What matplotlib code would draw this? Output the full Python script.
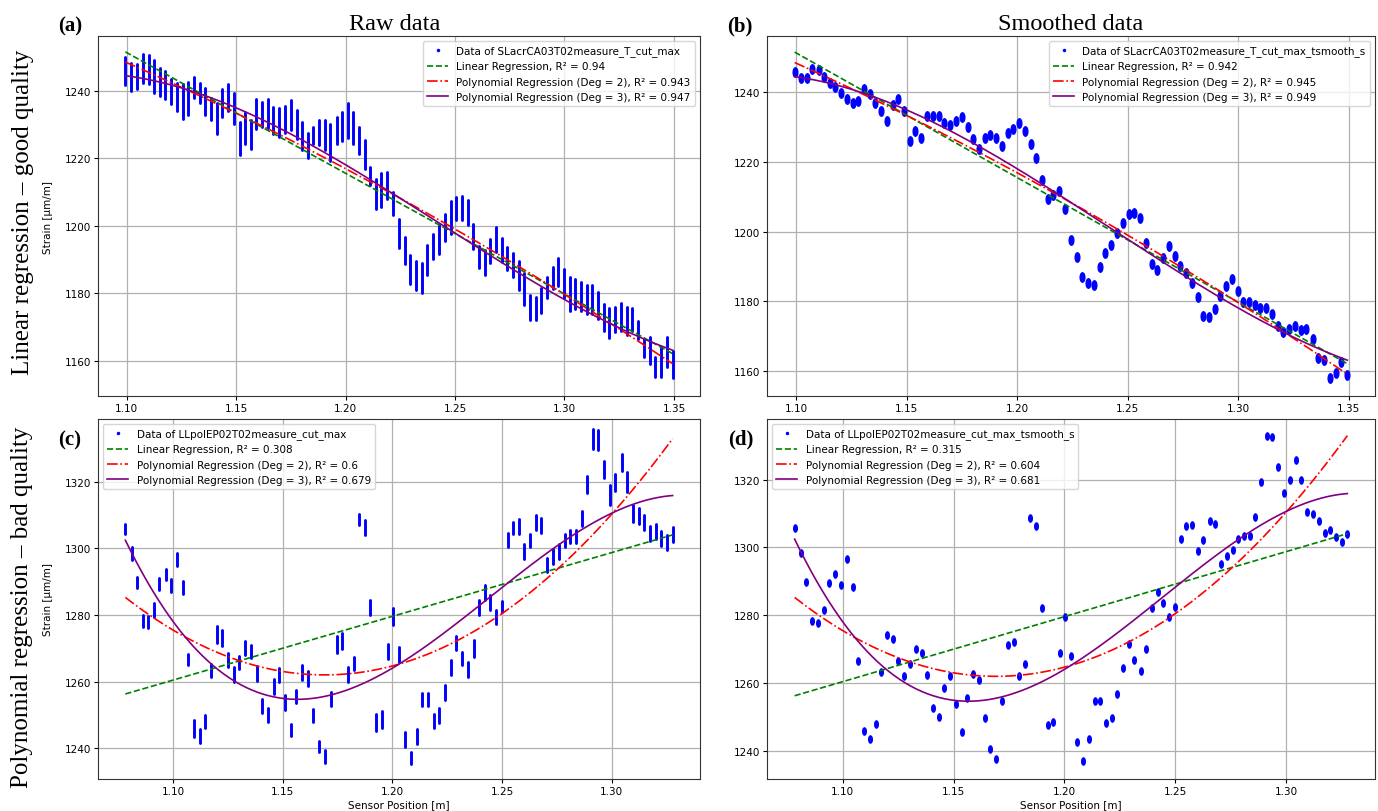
import numpy as np
import matplotlib.pyplot as plt
from matplotlib.lines import Line2D
from matplotlib.markers import MarkerStyle
from matplotlib.transforms import Affine2D

# ---- good quality sensor (SLacrCA03T02) ----
pos_good = [1.0994, 1.1022, 1.1048, 1.1074, 1.1102, 1.1126, 1.1152, 1.1177, 1.1203, 1.1229,
            1.1257, 1.1281, 1.1307, 1.1333, 1.1359, 1.1385, 1.1411, 1.1437, 1.1463, 1.1490,
            1.1516, 1.1540, 1.1566, 1.1592, 1.1618, 1.1646, 1.1670, 1.1698, 1.1724, 1.1750,
            1.1776, 1.1801, 1.1827, 1.1853, 1.1879, 1.1905, 1.1931, 1.1959, 1.1983, 1.2009,
            1.2035, 1.2061, 1.2087, 1.2113, 1.2138, 1.2164, 1.2190, 1.2218, 1.2244, 1.2270,
            1.2296, 1.2322, 1.2348, 1.2374, 1.2400, 1.2426, 1.2452, 1.2480, 1.2505, 1.2531,
            1.2557, 1.2583, 1.2609, 1.2635, 1.2661, 1.2687, 1.2713, 1.2739, 1.2765, 1.2791,
            1.2817, 1.2843, 1.2869, 1.2894, 1.2920, 1.2946, 1.2972, 1.2998, 1.3024, 1.3050,
            1.3075, 1.3101, 1.3127, 1.3153, 1.3179, 1.3205, 1.3231, 1.3259, 1.3285, 1.3309,
            1.3337, 1.3363, 1.3389, 1.3415, 1.3441, 1.3467, 1.3494]
strain_good = [1245.9, 1244.0, 1244.2, 1246.6, 1246.4, 1244.3, 1242.5, 1241.6, 1239.7, 1238.1,
               1236.8, 1237.6, 1241.0, 1239.4, 1236.8, 1234.5, 1231.8, 1236.4, 1238.0, 1234.7,
               1225.9, 1228.9, 1227.0, 1233.1, 1233.1, 1233.3, 1231.2, 1230.6, 1231.6, 1232.8,
               1230.0, 1226.5, 1223.7, 1226.8, 1227.6, 1226.8, 1224.6, 1228.3, 1229.4, 1231.1,
               1229.0, 1225.2, 1221.1, 1214.7, 1209.4, 1210.6, 1211.8, 1206.6, 1197.7, 1192.8,
               1187.1, 1185.3, 1184.6, 1189.8, 1193.8, 1196.1, 1199.5, 1202.4, 1205.1, 1205.3,
               1203.9, 1196.8, 1190.8, 1189.1, 1192.5, 1195.8, 1192.9, 1190.3, 1188.3, 1185.3,
               1181.2, 1175.8, 1175.5, 1177.9, 1181.7, 1184.5, 1186.3, 1182.9, 1179.8, 1179.9,
               1179.1, 1178.2, 1178.2, 1176.4, 1172.9, 1171.3, 1172.2, 1172.9, 1171.8, 1172.2,
               1169.1, 1163.8, 1163.1, 1158.1, 1159.6, 1162.7, 1159.0]
# half height of the raw data clusters
spread_good = [4.2, 4.2, 3.7, 4.4, 4.3, 4.9, 4.2, 4.2, 3.7, 4.2,
               5.2, 4.9, 3.2, 3.0, 4.0, 3.2, 4.5, 4.2, 4.0, 4.7,
               4.9, 4.7, 4.4, 4.4, 3.7, 4.2, 4.0, 4.4, 4.0, 4.4,
               4.4, 4.2, 3.7, 2.5, 3.7, 4.4, 5.4, 4.0, 4.2, 5.2,
               4.7, 4.0, 4.2, 2.7, 4.4, 4.9, 4.0, 3.5, 4.2, 4.0,
               4.2, 4.4, 4.4, 4.4, 3.7, 4.4, 4.0, 4.9, 3.5, 3.5,
               3.7, 3.7, 3.2, 3.7, 3.5, 3.7, 3.5, 3.5, 3.5, 4.4,
               4.7, 3.7, 3.5, 3.7, 3.0, 3.2, 4.2, 4.4, 4.9, 4.4,
               4.4, 4.4, 4.2, 4.0, 4.0, 4.4, 3.7, 4.2, 4.2, 3.5,
               2.7, 2.7, 4.0, 3.0, 4.4, 4.4, 4.0]

# ---- bad quality sensor (LLpolEP02T02) ----
pos_bad = [1.0783, 1.0811, 1.0836, 1.0862, 1.0888, 1.0914, 1.0938, 1.0966, 1.0992, 1.1018,
           1.1046, 1.1070, 1.1096, 1.1124, 1.1148, 1.1171, 1.1199, 1.1225, 1.1251, 1.1277,
           1.1303, 1.1329, 1.1357, 1.1381, 1.1407, 1.1435, 1.1459, 1.1485, 1.1510, 1.1536,
           1.1560, 1.1588, 1.1614, 1.1640, 1.1666, 1.1692, 1.1718, 1.1746, 1.1772, 1.1796,
           1.1824, 1.1847, 1.1873, 1.1899, 1.1925, 1.1951, 1.1979, 1.2003, 1.2031, 1.2057,
           1.2083, 1.2111, 1.2137, 1.2161, 1.2188, 1.2214, 1.2238, 1.2266, 1.2290, 1.2316,
           1.2344, 1.2370, 1.2394, 1.2422, 1.2446, 1.2472, 1.2500, 1.2525, 1.2549, 1.2577,
           1.2601, 1.2627, 1.2655, 1.2679, 1.2705, 1.2733, 1.2759, 1.2785, 1.2811, 1.2837,
           1.2862, 1.2888, 1.2914, 1.2938, 1.2966, 1.2990, 1.3016, 1.3044, 1.3070, 1.3096,
           1.3122, 1.3148, 1.3174, 1.3199, 1.3225, 1.3251, 1.3277]
strain_bad = [1305.7, 1298.4, 1289.8, 1278.2, 1277.8, 1281.5, 1289.4, 1292.2, 1288.8, 1296.6,
              1288.3, 1266.6, 1245.8, 1243.6, 1247.9, 1263.3, 1274.1, 1273.1, 1266.5, 1262.2,
              1265.7, 1270.1, 1269.0, 1262.3, 1252.6, 1249.9, 1258.4, 1262.0, 1253.8, 1245.5,
              1255.5, 1262.6, 1261.0, 1249.7, 1240.5, 1237.5, 1254.7, 1271.2, 1272.2, 1262.0,
              1265.5, 1308.7, 1306.2, 1282.1, 1247.6, 1248.6, 1269.0, 1279.5, 1268.1, 1242.7,
              1237.1, 1243.6, 1254.6, 1254.6, 1248.1, 1249.8, 1256.8, 1264.3, 1271.6, 1266.9,
              1263.5, 1270.0, 1282.1, 1286.8, 1283.7, 1279.4, 1282.5, 1302.5, 1306.2, 1306.5,
              1299.0, 1302.3, 1307.8, 1306.8, 1295.0, 1297.5, 1299.2, 1302.4, 1303.5, 1303.5,
              1308.9, 1319.3, 1332.8, 1332.7, 1323.8, 1316.0, 1319.9, 1325.8, 1319.9, 1310.5,
              1309.8, 1307.8, 1304.4, 1305.1, 1303.1, 1301.7, 1304.1]
spread_bad = [1.5, 2.0, 1.75, 1.75, 1.75, 2.0, 1.75, 1.75, 2.0, 2.0,
              2.0, 1.75, 2.5, 2.0, 2.0, 2.0, 2.5, 2.5, 2.0, 2.25,
              2.0, 2.0, 2.0, 2.25, 2.0, 2.0, 2.25, 2.0, 2.25, 1.75,
              2.0, 2.25, 2.25, 2.0, 1.75, 2.0, 2.0, 2.5, 2.5, 2.25,
              2.0, 1.75, 2.25, 2.25, 2.5, 2.5, 2.25, 2.5, 2.25, 2.25,
              1.75, 2.25, 2.0, 2.0, 2.0, 2.25, 2.25, 2.25, 2.0, 2.0,
              2.25, 2.5, 2.25, 2.25, 2.25, 2.0, 1.75, 2.0, 1.75, 2.25,
              2.25, 2.0, 2.25, 2.25, 2.0, 2.25, 2.25, 2.0, 2.0, 2.0,
              2.25, 2.5, 3.0, 3.0, 2.5, 3.0, 2.5, 2.5, 3.0, 2.5,
              2.5, 2.25, 2.25, 2.25, 2.25, 2.25, 2.25]

panels = [
    # letter, data name, raw?, x, y, spread, R2 values, legend loc, ylim
    ('(a)', 'SLacrCA03T02measure_T_cut_max', True, pos_good, strain_good, spread_good,
     ['0.94', '0.943', '0.947'], 'upper right', (1149.6, 1256.2)),
    ('(b)', 'SLacrCA03T02measure_T_cut_max_tsmooth_s', False, pos_good, strain_good, None,
     ['0.942', '0.945', '0.949'], 'upper right', (1152.9, 1256.1)),
    ('(c)', 'LLpolEP02T02measure_cut_max', True, pos_bad, strain_bad, spread_bad,
     ['0.308', '0.6', '0.679'], 'upper left', (1230.7, 1338.9)),
    ('(d)', 'LLpolEP02T02measure_cut_max_tsmooth_s', False, pos_bad, strain_bad, None,
     ['0.315', '0.604', '0.681'], 'upper left', (1231.7, 1337.9)),
]

W, H = 1378, 812
boxes = [(98, 37, 700, 397), (767, 37, 1375, 397), (98, 420, 700, 780), (767, 420, 1375, 780)]
letter_xy = [(70, 26), (740, 26), (70, 440), (741, 439)]

plt.rcParams['font.size'] = 7.5
fig = plt.figure(figsize=(W / 100, H / 100), dpi=100)
oval = MarkerStyle('o', transform=Affine2D().scale(0.5, 1.0))

for i, (letter, name, raw, x, y, spread, r2, loc, ylim) in enumerate(panels):
    l, t, r, b = boxes[i]
    ax = fig.add_axes([l / W, 1 - b / H, (r - l) / W, (b - t) / H])
    x = np.array(x)
    y = np.array(y)
    if raw:
        s = np.array(spread)
        ax.vlines(x, y - s, y + s, color='blue', lw=2.1, capstyle='round', zorder=2)
    else:
        ms = 6.8 if i == 1 else 5.2
        ax.plot(x, y, ls='none', marker=oval, ms=ms, color='blue', mec='blue', zorder=2)

    xs = np.linspace(x.min(), x.max(), 300)
    p1 = np.polyfit(x, y, 1)
    p2 = np.polyfit(x, y, 2)
    p3 = np.polyfit(x, y, 3)
    ax.plot(xs, np.polyval(p1, xs), '--', color='green', lw=1.2, zorder=3)
    ax.plot(xs, np.polyval(p2, xs), '-.', color='red', lw=1.2, zorder=3)
    ax.plot(xs, np.polyval(p3, xs), '-', color='purple', lw=1.2, zorder=3)

    handles = [Line2D([], [], ls='none', marker='.', ms=3, color='blue'),
               Line2D([], [], ls='--', color='green', lw=1.2),
               Line2D([], [], ls='-.', color='red', lw=1.2),
               Line2D([], [], ls='-', color='purple', lw=1.2)]
    labels = ['Data of ' + name,
              'Linear Regression, R\u00b2 = ' + r2[0],
              'Polynomial Regression (Deg = 2), R\u00b2 = ' + r2[1],
              'Polynomial Regression (Deg = 3), R\u00b2 = ' + r2[2]]
    ax.legend(handles, labels, loc=loc, fontsize=7.5)

    ax.margins(x=0.05)
    ax.set_ylim(ylim)
    ax.grid(True, color='#b0b0b0', lw=0.9)
    ax.set_axisbelow(True)
    ax.tick_params(length=2.6, width=0.8, labelsize=7.5, pad=2.5)
    for sp in ax.spines.values():
        sp.set_color('#333333')
    if i in (0, 2):
        ax.set_ylabel('Strain [\u00b5m/m]', fontsize=7.5, labelpad=8)
    if i >= 2:
        ax.set_xlabel('Sensor Position [m]', fontsize=7.5, labelpad=2)

    fig.text(letter_xy[i][0] / W, 1 - letter_xy[i][1] / H, letter, fontsize=15,
             fontweight='bold', family='Liberation Serif', ha='center', va='center')

fig.text(395 / W, 1 - 25 / H, 'Raw data', fontsize=17.5, family='Liberation Serif',
         ha='center', va='center')
fig.text(1071 / W, 1 - 25 / H, 'Smoothed data', fontsize=17.5, family='Liberation Serif',
         ha='center', va='center')
fig.text(23 / W, 1 - 212 / H, 'Linear regression \u2013 good quality', fontsize=18,
         family='Liberation Serif', rotation=90, ha='center', va='center')
fig.text(22 / W, 1 - 607 / H, 'Polynomial regression \u2013 bad quality', fontsize=18,
         family='Liberation Serif', rotation=90, ha='center', va='center')

fig.savefig('out.png', dpi=100)
